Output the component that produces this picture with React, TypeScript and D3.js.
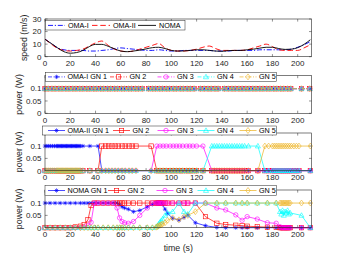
import React from "react";
import * as d3 from "d3";

// speed panel
const tSpeed = [0, 5, 10, 15, 20, 25, 30, 35, 40, 45, 50, 55, 60, 65, 70, 75, 80, 85, 90, 95, 100, 105, 110, 115, 120, 125, 130, 135, 140, 145, 150, 155, 160, 165, 170, 175, 180, 185, 190, 195, 200, 205, 210];
const speedOmaI = [14, 10.5, 7, 5.5, 5, 5, 5, 4.5, 4.5, 5, 5.5, 6.5, 7, 6.5, 6, 5.5, 5, 5, 5.5, 5, 4.5, 4.5, 5, 5, 5, 5, 5, 4.5, 4.5, 4.5, 5, 5, 5, 5, 5.5, 5.5, 5.5, 5.5, 5.5, 6, 7.5, 9.5, 12];
const speedOmaII = [14, 10, 6.5, 5, 4.5, 5, 6, 8.5, 11, 12.5, 9, 6, 4.5, 4, 4.5, 6, 7.5, 9, 10.5, 7, 5, 4.5, 4.5, 5, 6, 7.5, 8.5, 6.5, 5, 5, 5, 5, 5.5, 7, 8.5, 10, 8, 5.5, 5, 5, 5, 7, 9.5];
const speedNoma = [13.8, 10.5, 7, 4, 2.8, 3.3, 5, 8, 9.8, 9.8, 8.3, 6.3, 4.5, 4, 4.5, 5.2, 6.2, 7.2, 7.5, 6.5, 5, 4.5, 4.6, 5, 5.5, 5.5, 5, 4.5, 4.3, 4.8, 5, 5, 5.5, 6, 6.8, 7.5, 7.5, 6.5, 5.8, 6, 7.2, 9.8, 13.5];

// OMA-I: every GN gets the same power at every sample
const tOmaI = [0, 2.5, 5.5, 8, 11, 13.5, 16.5, 19, 22, 24.5, 27.5, 30, 33, 35.5, 38.5, 41, 44, 46.5, 49.5, 52, 55, 57.5, 60.5, 63, 66, 68.5, 71.5, 74, 77, 82, 85, 87.5, 90.5, 93, 96, 98.5, 101.5, 104, 107, 109.5, 112.5, 115, 118, 123, 126, 129, 131.5, 134.5, 137, 142, 145, 148, 150.5, 153.5, 156, 159, 161.5, 164.5, 167, 170, 172.5, 175.5, 178, 181, 183.5, 186.5, 189, 192, 194.5, 203, 209.5];
const omaIPower = 0.1;

// OMA-II: one GN served at a time
const tOmaII = [0, 1.5, 3, 4.5, 6, 7.5, 9, 10, 11, 12, 13, 14, 15, 16, 17, 18, 19, 20, 21, 22, 23, 24, 25, 26, 27, 28, 30, 35.5, 42,
  45, 48, 50.5, 53, 55.5, 58, 61, 63.5, 66.5, 69, 72, 84,
  88.5, 91, 93.5, 96, 99, 101.5, 104, 106.5, 109, 112, 114.5, 117, 120, 125,
  132, 134, 136, 138, 140, 142, 144, 146, 148, 150, 152, 154, 156, 158, 161, 168.5,
  174, 177, 180, 181.5, 183, 184.5, 186, 187.5, 189, 190.5, 192, 193.5, 195, 197, 199, 201, 210];
const servedOmaII = [1, 1, 1, 1, 1, 1, 1, 1, 1, 1, 1, 1, 1, 1, 1, 1, 1, 1, 1, 1, 1, 1, 1, 1, 1, 1, 1, 1, 1,
  2, 2, 2, 2, 2, 2, 2, 2, 2, 2, 2, 2,
  3, 3, 3, 3, 3, 3, 3, 3, 3, 3, 3, 3, 3, 3,
  4, 4, 4, 4, 4, 4, 4, 4, 4, 4, 4, 4, 4, 4, 4, 4,
  5, 5, 5, 5, 5, 5, 5, 5, 5, 5, 5, 5, 5, 5, 5, 5, 5];
const omaIIPower = 0.1;

// NOMA
const tNoma = [0, 4, 8, 12, 16, 20, 24, 28, 31, 34,
  36.5, 39, 42, 46, 50, 54, 57, 59, 61, 63,
  66, 70, 75, 81, 85, 88, 89, 90, 91, 92,
  93, 95, 97, 101, 106, 110, 113, 119, 127, 136,
  143, 151, 156, 160, 168, 176, 183, 186, 187, 188,
  189, 190, 191, 192, 193, 194, 203, 210];
const nomaGN1 = [0.1, 0.1, 0.1, 0.1, 0.1, 0.1, 0.1, 0.1, 0.1, 0.1,
  0.1, 0.1, 0.1, 0.1, 0.1, 0.1, 0.1, 0.095, 0.085, 0.08,
  0.075, 0.065, 0.07, 0.085, 0.095, 0.1, 0.1, 0.1, 0.1, 0.1,
  0.095, 0.075, 0.058, 0.038, 0.031, 0.042, 0.051, 0.02, 0.008, 0.001,
  0, 0, 0, 0, 0, 0, 0, 0, 0, 0,
  0, 0, 0, 0, 0, 0, 0, 0];
const nomaGN2 = [0, 0, 0, 0, 0, 0, 0.003, 0.006, 0.012, 0.032,
  0.09, 0.1, 0.1, 0.1, 0.1, 0.1, 0.1, 0.1, 0.1, 0.1,
  0.1, 0.1, 0.1, 0.1, 0.1, 0.1, 0.1, 0.1, 0.1, 0.1,
  0.1, 0.1, 0.1, 0.1, 0.1, 0.1, 0.1, 0.1, 0.045, 0.018,
  0.013, 0.01, 0.008, 0.006, 0.004, 0.002, 0.001, 0, 0, 0,
  0, 0, 0, 0, 0, 0, 0, 0];
const nomaGN3 = [0, 0, 0, 0, 0, 0, 0, 0, 0.003, 0.008,
  0.022, 0.1, 0.1, 0.1, 0.1, 0.1, 0.08, 0.04, 0.025, 0.02,
  0.018, 0.025, 0.05, 0.08, 0.1, 0.1, 0.1, 0.1, 0.1, 0.1,
  0.1, 0.1, 0.1, 0.1, 0.1, 0.1, 0.1, 0.1, 0.1, 0.08,
  0.072, 0.052, 0.03, 0.045, 0.035, 0.02, 0.018, 0.004, 0, 0,
  0, 0, 0, 0, 0, 0, 0, 0];
const nomaGN4 = [0, 0, 0, 0, 0, 0, 0, 0, 0, 0,
  0, 0, 0, 0, 0, 0, 0, 0, 0, 0,
  0, 0, 0, 0, 0, 0.003, 0.008, 0.015, 0.022, 0.028,
  0.035, 0.05, 0.06, 0.065, 0.1, 0.065, 0.055, 0.1, 0.1, 0.1,
  0.1, 0.1, 0.1, 0.1, 0.1, 0.1, 0.1, 0.065, 0.055, 0.07,
  0.05, 0.065, 0.06, 0.07, 0.055, 0.06, 0.05, 0];
const nomaGN5 = [0, 0, 0, 0, 0, 0, 0, 0, 0, 0,
  0, 0, 0, 0, 0, 0, 0, 0, 0, 0,
  0, 0, 0, 0, 0, 0.002, 0.005, 0.008, 0.01, 0.012,
  0.015, 0.02, 0.03, 0.04, 0.032, 0.045, 0.05, 0.065, 0.1, 0.1,
  0.1, 0.1, 0.1, 0.1, 0.1, 0.1, 0.1, 0.1, 0.1, 0.1,
  0.1, 0.1, 0.1, 0.1, 0.1, 0.1, 0.1, 0.1];

const xTicks = [0, 20, 40, 60, 80, 100, 120, 140, 160, 180, 200];
const speedTicks = [0, 10, 20, 30];
const powerTicks = [0, 0.05, 0.1];
const gnLabels = ["GN 1", "GN 2", "GN 3", "GN 4", "GN 5"];
const gnColors = ["#0000ff", "#ff0000", "#ff00ff", "#00ffff", "#edb120"];
const gnShapes = ["star", "square", "circle", "triangle", "diamond"];

const AX = "#262626";
const FONT = "'Liberation Sans', Arial, sans-serif";
const left = 45;
const right = 311.6;
const panelH = 37.7;
const tops = [19, 75.6, 133, 190];

const x = d3.scaleLinear().domain([0, 211]).range([left, right]);

function Marker({ shape, cx, cy, color }) {
  const s = 2.2;
  const sw = 0.6;
  if (shape === "star") {
    const d = s * 0.72;
    return (
      <path
        d={`M${cx - s},${cy}L${cx + s},${cy}M${cx},${cy - s}L${cx},${cy + s}M${cx - d},${cy - d}L${cx + d},${cy + d}M${cx - d},${cy + d}L${cx + d},${cy - d}`}
        stroke={color} strokeWidth={sw} fill="none" />
    );
  }
  if (shape === "square")
    return <rect x={cx - s} y={cy - s} width={2 * s} height={2 * s} stroke={color} strokeWidth={sw} fill="none" />;
  if (shape === "circle")
    return <circle cx={cx} cy={cy} r={s} stroke={color} strokeWidth={sw} fill="none" />;
  if (shape === "triangle")
    return <polygon points={`${cx},${cy - s * 1.2} ${cx - s * 1.15},${cy + s * 0.85} ${cx + s * 1.15},${cy + s * 0.85}`} stroke={color} strokeWidth={sw} fill="none" />;
  return <polygon points={`${cx},${cy - s * 1.35} ${cx + s},${cy} ${cx},${cy + s * 1.35} ${cx - s},${cy}`} stroke={color} strokeWidth={sw} fill="none" />;
}

function Frame({ top, y, yTicks, fmt, ylabel, labelX }) {
  const bottom = top + panelH;
  const tl = 2.6;
  return (
    <g>
      <rect x={left} y={top} width={right - left} height={panelH} fill="#fff" />
      {xTicks.map((t) => (
        <g key={"x" + t}>
          <line x1={x(t)} x2={x(t)} y1={bottom} y2={bottom - tl} stroke={AX} strokeWidth={0.5} />
          <line x1={x(t)} x2={x(t)} y1={top} y2={top + tl} stroke={AX} strokeWidth={0.5} />
          <text x={x(t)} y={bottom + 9.6} fontSize={8} textAnchor="middle" fill={AX}>{t}</text>
        </g>
      ))}
      {yTicks.map((v) => (
        <g key={"y" + v}>
          <line x1={left} x2={left + tl} y1={y(v)} y2={y(v)} stroke={AX} strokeWidth={0.5} />
          <line x1={right} x2={right - tl} y1={y(v)} y2={y(v)} stroke={AX} strokeWidth={0.5} />
          <text x={left - 3.5} y={y(v)} dy="0.35em" fontSize={8} textAnchor="end" fill={AX}>{fmt(v)}</text>
        </g>
      ))}
      <text transform={`translate(${labelX},${top + panelH / 2}) rotate(-90)`} dy="0.35em" fontSize={8.8} textAnchor="middle" fill={AX}>{ylabel}</text>
    </g>
  );
}

function Border({ top }) {
  return <rect x={left} y={top} width={right - left} height={panelH} fill="none" stroke={AX} strokeWidth={0.6} />;
}

function GnLegend({ box, cy, centers, first }) {
  return (
    <g>
      <rect x={box[0]} y={box[1]} width={box[2]} height={box[3]} fill="#fff" stroke={AX} strokeWidth={0.5} />
      {gnLabels.map((lab, i) => (
        <g key={lab}>
          <line x1={centers[i] - 8.5} x2={centers[i] + 8.5} y1={cy} y2={cy} stroke={gnColors[i]} strokeWidth={0.7} strokeDasharray={first.dash} />
          <Marker shape={gnShapes[i]} cx={centers[i]} cy={cy} color={gnColors[i]} />
          <text x={centers[i] + 11} y={cy} dy="0.35em" fontSize={7.2} fill="#000">{i === 0 ? first.label : lab}</text>
        </g>
      ))}
    </g>
  );
}

function PowerPanel({ top, series, dash, legend }) {
  const bottom = top + panelH;
  const y = d3.scaleLinear().domain([0, 0.153]).range([bottom, top]);
  const line = d3.line().x((d) => x(d[0])).y((d) => y(d[1]));
  return (
    <g>
      <Frame top={top} y={y} yTicks={powerTicks} fmt={(v) => String(v)} ylabel="power (W)" labelX={18.5} />
      {series.map((pts, i) => (
        <g key={i}>
          <path d={line(pts)} fill="none" stroke={gnColors[i]} strokeWidth={0.7} strokeDasharray={dash} />
          {pts.map((p, j) => (
            <Marker key={j} shape={gnShapes[i]} cx={x(p[0])} cy={y(p[1])} color={gnColors[i]} />
          ))}
        </g>
      ))}
      <Border top={top} />
      <GnLegend box={legend.box} cy={legend.cy} centers={legend.centers} first={{ label: legend.label, dash }} />
    </g>
  );
}

export default function App() {
  const top1 = tops[0];
  const yS = d3.scaleLinear().domain([0, 30]).range([top1 + panelH, top1]);
  const sLine = d3.line().x((d) => x(d[0])).y((d) => yS(d[1])).curve(d3.curveMonotoneX);
  const speedSeries = [
    { name: "OMA-I", vals: speedOmaI, color: "#0000ff", dash: "5,1.8,1.2,1.8" },
    { name: "OMA-II", vals: speedOmaII, color: "#ff0000", dash: "5.5,2.8" },
    { name: "NOMA", vals: speedNoma, color: "#000000", dash: undefined },
  ];
  const legend1 = [
    { x1: 48, x2: 65, tx: 68 },
    { x1: 92, x2: 110, tx: 113 },
    { x1: 138, x2: 156, tx: 159 },
  ];

  const omaISeries = gnLabels.map(() => tOmaI.map((t) => [t, omaIPower]));
  const omaIISeries = gnLabels.map((_, g) => tOmaII.map((t, i) => [t, servedOmaII[i] === g + 1 ? omaIIPower : 0]));
  const nomaVals = [nomaGN1, nomaGN2, nomaGN3, nomaGN4, nomaGN5];
  const nomaSeries = nomaVals.map((vals) => tNoma.map((t, i) => [t, vals[i]]));

  return (
    <svg width={346} height={260} style={{ position: "absolute", left: 0, top: 0 }} fontFamily={FONT}>
      <rect width={346} height={260} fill="#fff" />
      <Frame top={top1} y={yS} yTicks={speedTicks} fmt={(v) => String(v)} ylabel="speed (m/s)" labelX={24} />
      {speedSeries.map((s) => (
        <path key={s.name} d={sLine(tSpeed.map((t, i) => [t, s.vals[i]]))} fill="none" stroke={s.color} strokeWidth={0.9} strokeDasharray={s.dash} />
      ))}
      <Border top={top1} />
      <rect x={45.7} y={20.7} width={139.3} height={9.3} fill="#fff" stroke={AX} strokeWidth={0.5} />
      {speedSeries.map((s, i) => (
        <g key={"lg" + s.name}>
          <line x1={legend1[i].x1} x2={legend1[i].x2} y1={25.4} y2={25.4} stroke={s.color} strokeWidth={0.9} strokeDasharray={s.dash} />
          <text x={legend1[i].tx} y={25.4} dy="0.35em" fontSize={7.2} fill="#000">{s.name}</text>
        </g>
      ))}

      <PowerPanel top={tops[1]} series={omaISeries} dash="4,1.5,1,1.5"
        legend={{ box: [45.7, 72.5, 231, 8.8], cy: 76.9, centers: [56.5, 118.5, 166, 206, 248], label: "OMA-I GN 1" }} />
      <PowerPanel top={tops[2]} series={omaIISeries} dash={undefined}
        legend={{ box: [42.7, 126, 234, 9], cy: 130.5, centers: [56.5, 121.5, 166, 206, 248], label: "OMA-II GN 1" }} />
      <PowerPanel top={tops[3]} series={nomaSeries} dash={undefined}
        legend={{ box: [45, 185.5, 231.7, 10], cy: 190.5, centers: [56.5, 116.5, 165, 206, 248], label: "NOMA GN 1" }} />

      <text x={(left + right) / 2} y={250.5} fontSize={8.8} textAnchor="middle" fill={AX}>time (s)</text>
    </svg>
  );
}
